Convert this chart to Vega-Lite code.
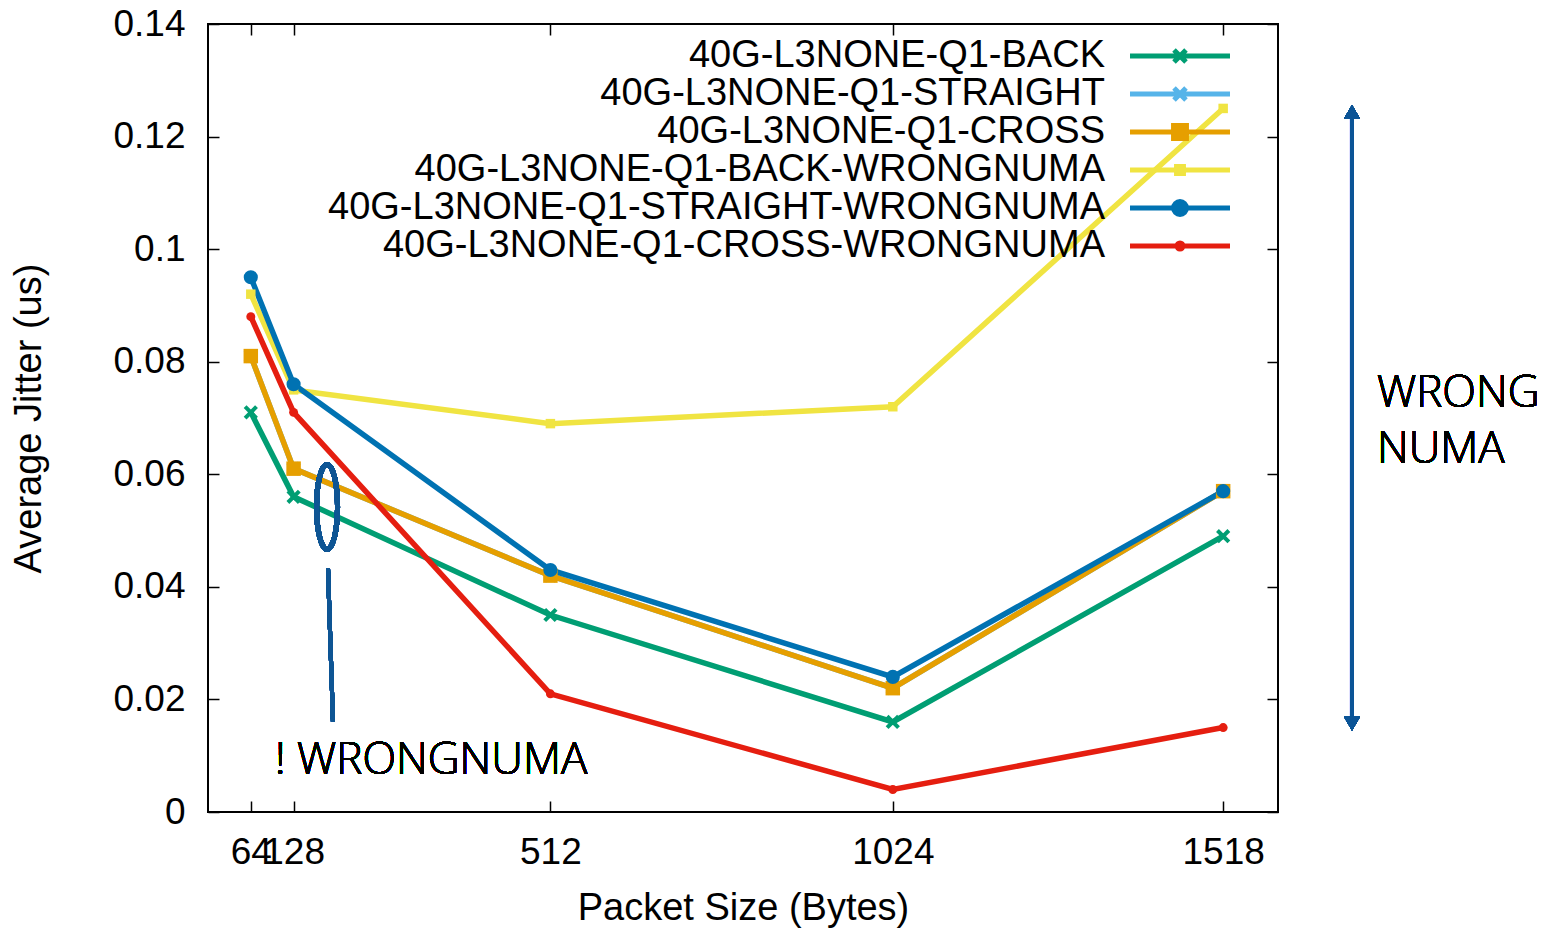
{
  "$schema": "https://vega.github.io/schema/vega-lite/v6.json",
  "width": 1070,
  "height": 788,
  "autosize": {"type": "none"},
  "padding": {"left": 208, "top": 24, "right": 274, "bottom": 116},
  "background": "white",
  "config": {
    "view": {"stroke": "black", "strokeWidth": 2},
    "axis": {
      "grid": false,
      "domain": false,
      "tickColor": "black",
      "tickWidth": 1.5,
      "tickSize": -11,
      "labelFont": "Liberation Sans",
      "labelFontSize": 37,
      "labelColor": "black",
      "titleFont": "Liberation Sans",
      "titleFontSize": 38,
      "titleFontWeight": "normal",
      "titleColor": "black"
    },
    "point": {"filled": true, "opacity": 1, "strokeWidth": 4}
  },
  "data": {
    "values": [
      {"series": "40G-L3NONE-Q1-BACK", "bytes": 64, "jitter": 0.071},
      {"series": "40G-L3NONE-Q1-BACK", "bytes": 128, "jitter": 0.056},
      {"series": "40G-L3NONE-Q1-BACK", "bytes": 512, "jitter": 0.035},
      {"series": "40G-L3NONE-Q1-BACK", "bytes": 1024, "jitter": 0.016},
      {"series": "40G-L3NONE-Q1-BACK", "bytes": 1518, "jitter": 0.049},
      {"series": "40G-L3NONE-Q1-STRAIGHT", "bytes": 64, "jitter": 0.081},
      {"series": "40G-L3NONE-Q1-STRAIGHT", "bytes": 128, "jitter": 0.061},
      {"series": "40G-L3NONE-Q1-STRAIGHT", "bytes": 512, "jitter": 0.042},
      {"series": "40G-L3NONE-Q1-STRAIGHT", "bytes": 1024, "jitter": 0.022},
      {"series": "40G-L3NONE-Q1-STRAIGHT", "bytes": 1518, "jitter": 0.057},
      {"series": "40G-L3NONE-Q1-CROSS", "bytes": 64, "jitter": 0.081},
      {"series": "40G-L3NONE-Q1-CROSS", "bytes": 128, "jitter": 0.061},
      {"series": "40G-L3NONE-Q1-CROSS", "bytes": 512, "jitter": 0.042},
      {"series": "40G-L3NONE-Q1-CROSS", "bytes": 1024, "jitter": 0.022},
      {"series": "40G-L3NONE-Q1-CROSS", "bytes": 1518, "jitter": 0.057},
      {"series": "40G-L3NONE-Q1-BACK-WRONGNUMA", "bytes": 64, "jitter": 0.092},
      {"series": "40G-L3NONE-Q1-BACK-WRONGNUMA", "bytes": 128, "jitter": 0.075},
      {"series": "40G-L3NONE-Q1-BACK-WRONGNUMA", "bytes": 512, "jitter": 0.069},
      {"series": "40G-L3NONE-Q1-BACK-WRONGNUMA", "bytes": 1024, "jitter": 0.072},
      {"series": "40G-L3NONE-Q1-BACK-WRONGNUMA", "bytes": 1518, "jitter": 0.125},
      {"series": "40G-L3NONE-Q1-STRAIGHT-WRONGNUMA", "bytes": 64, "jitter": 0.095},
      {"series": "40G-L3NONE-Q1-STRAIGHT-WRONGNUMA", "bytes": 128, "jitter": 0.076},
      {"series": "40G-L3NONE-Q1-STRAIGHT-WRONGNUMA", "bytes": 512, "jitter": 0.043},
      {"series": "40G-L3NONE-Q1-STRAIGHT-WRONGNUMA", "bytes": 1024, "jitter": 0.024},
      {"series": "40G-L3NONE-Q1-STRAIGHT-WRONGNUMA", "bytes": 1518, "jitter": 0.057},
      {"series": "40G-L3NONE-Q1-CROSS-WRONGNUMA", "bytes": 64, "jitter": 0.088},
      {"series": "40G-L3NONE-Q1-CROSS-WRONGNUMA", "bytes": 128, "jitter": 0.071},
      {"series": "40G-L3NONE-Q1-CROSS-WRONGNUMA", "bytes": 512, "jitter": 0.021},
      {"series": "40G-L3NONE-Q1-CROSS-WRONGNUMA", "bytes": 1024, "jitter": 0.004},
      {"series": "40G-L3NONE-Q1-CROSS-WRONGNUMA", "bytes": 1518, "jitter": 0.015}
    ]
  },
  "resolve": {"axis": {"x": "independent", "y": "independent"}},
  "layer": [
    {
      "mark": {"type": "line", "strokeWidth": 5.5, "strokeCap": "butt", "strokeJoin": "miter"},
      "encoding": {
        "x": {
          "field": "bytes", "type": "quantitative",
          "scale": {"domain": [0, 1600], "nice": false, "zero": false},
          "axis": {"orient": "bottom", "values": [64, 128, 512, 1024, 1518], "format": "d", "labelPadding": 33, "labelFlush": false, "labelOverlap": false, "title": "Packet Size (Bytes)", "titlePadding": 19}
        },
        "y": {
          "field": "jitter", "type": "quantitative",
          "scale": {"domain": [0, 0.14], "nice": false},
          "axis": {"orient": "left", "values": [0, 0.02, 0.04, 0.06, 0.08, 0.1, 0.12, 0.14], "format": "~g", "labelPadding": 34, "labelFlush": false, "labelOverlap": false, "title": "Average Jitter (us)", "titlePadding": 64}
        },
        "color": {
          "field": "series", "type": "nominal",
          "scale": {
            "domain": ["40G-L3NONE-Q1-BACK", "40G-L3NONE-Q1-STRAIGHT", "40G-L3NONE-Q1-CROSS", "40G-L3NONE-Q1-BACK-WRONGNUMA", "40G-L3NONE-Q1-STRAIGHT-WRONGNUMA", "40G-L3NONE-Q1-CROSS-WRONGNUMA"],
            "range": ["#009e73", "#56b4e9", "#e69f00", "#f0e442", "#0072b2", "#e51e10"]
          },
          "legend": {
            "orient": "none", "legendX": 953, "legendY": 13, "title": null, "padding": 0,
            "symbolType": "stroke", "symbolSize": 900, "symbolStrokeWidth": 5,
            "labelFont": "Liberation Sans", "labelFontSize": 38, "labelColor": "black",
            "labelAlign": "right", "labelOffset": -94, "labelLimit": 0, "rowPadding": 0,
            "encoding": {
              "symbols": {
                "shape": {"value": {"expr": "['M-3.333,0H3.333M-0.4,-0.4L0.4,0.4M0.4,-0.4L-0.4,0.4', 'M-3.333,0H3.333M-0.4,-0.4L0.4,0.4M0.4,-0.4L-0.4,0.4', 'M-3.333,0H3.333M-0.43,-0.43H0.43V0.43H-0.43Z', 'M-3.333,0H3.333M-0.23,-0.23H0.23V0.23H-0.23Z', 'M-3.333,0H3.333M-0.43,0A0.43,0.43 0 1,0 0.43,0A0.43,0.43 0 1,0 -0.43,0Z', 'M-3.333,0H3.333M-0.2,0A0.2,0.2 0 1,0 0.2,0A0.2,0.2 0 1,0 -0.2,0Z'][datum.index]"}},
                "fill": {"value": {"expr": "scale('color', datum.value)"}},
                "stroke": {"value": {"expr": "scale('color', datum.value)"}},
                "fillOpacity": {"value": 1},
                "strokeWidth": {"value": 5}
              }
            }
          }
        }
      }
    },
    {
      "transform": [{"filter": "indexof(['40G-L3NONE-Q1-BACK', '40G-L3NONE-Q1-STRAIGHT'], datum.series) >= 0"}],
      "mark": {"type": "point", "shape": "M-1,-1L1,1M1,-1L-1,1", "size": 130},
      "encoding": {
        "x": {"field": "bytes", "type": "quantitative", "axis": {"orient": "top", "values": [64, 128, 512, 1024, 1518], "labels": false, "title": null}},
        "y": {"field": "jitter", "type": "quantitative", "axis": {"orient": "right", "values": [0, 0.02, 0.04, 0.06, 0.08, 0.1, 0.12, 0.14], "labels": false, "title": null}},
        "color": {"field": "series", "type": "nominal", "legend": null},
        "stroke": {"field": "series", "type": "nominal", "scale": {
            "domain": ["40G-L3NONE-Q1-BACK", "40G-L3NONE-Q1-STRAIGHT"],
            "range": ["#009e73", "#56b4e9"]
          }, "legend": null}
      }
    },
    {
      "transform": [{"filter": "datum.series === '40G-L3NONE-Q1-CROSS'"}],
      "mark": {"type": "point", "shape": "square", "size": 210, "color": "#e69f00", "strokeWidth": 2},
      "encoding": {
        "x": {"field": "bytes", "type": "quantitative", "axis": null},
        "y": {"field": "jitter", "type": "quantitative", "axis": null}
      }
    },
    {
      "transform": [{"filter": "datum.series === '40G-L3NONE-Q1-BACK-WRONGNUMA'"}],
      "mark": {"type": "point", "shape": "square", "size": 90, "color": "#f0e442", "strokeWidth": 2},
      "encoding": {
        "x": {"field": "bytes", "type": "quantitative", "axis": null},
        "y": {"field": "jitter", "type": "quantitative", "axis": null}
      }
    },
    {
      "transform": [{"filter": "datum.series === '40G-L3NONE-Q1-STRAIGHT-WRONGNUMA'"}],
      "mark": {"type": "point", "shape": "circle", "size": 200, "color": "#0072b2", "strokeWidth": 2},
      "encoding": {
        "x": {"field": "bytes", "type": "quantitative", "axis": null},
        "y": {"field": "jitter", "type": "quantitative", "axis": null}
      }
    },
    {
      "transform": [{"filter": "datum.series === '40G-L3NONE-Q1-CROSS-WRONGNUMA'"}],
      "mark": {"type": "point", "shape": "circle", "size": 80, "color": "#e51e10", "strokeWidth": 2},
      "encoding": {
        "x": {"field": "bytes", "type": "quantitative", "axis": null},
        "y": {"field": "jitter", "type": "quantitative", "axis": null}
      }
    },
    {
      "mark": {"type": "point", "shape": "M-0.247,0A0.247,1 0 1,0 0.247,0A0.247,1 0 1,0 -0.247,0Z", "size": 7225, "filled": false, "stroke": "#0e5594", "strokeWidth": 5},
      "encoding": {"x": {"datum": 178, "type": "quantitative", "axis": null}, "y": {"datum": 0.0542, "type": "quantitative", "axis": null}}
    },
    {
      "mark": {"type": "rule", "stroke": "#0e5594", "strokeWidth": 4},
      "encoding": {
        "x": {"datum": 179.4, "type": "quantitative", "axis": null}, "x2": {"datum": 186.9},
        "y": {"datum": 0.04335, "type": "quantitative", "axis": null}, "y2": {"datum": 0.016}
      }
    },
    {
      "mark": {"type": "text", "text": "! WRONGNUMA", "font": "Open Sans", "fontSize": 44, "fontWeight": 300, "align": "left", "baseline": "alphabetic", "color": "black"},
      "encoding": {"x": {"datum": 100.2, "type": "quantitative", "axis": null}, "y": {"datum": 0.00675, "type": "quantitative", "axis": null}}
    },
    {
      "mark": {"type": "rule", "stroke": "#0b5496", "strokeWidth": 4},
      "encoding": {
        "x": {"datum": 1710.65, "type": "quantitative", "axis": null},
        "y": {"datum": 0.1240, "type": "quantitative", "axis": null}, "y2": {"datum": 0.0162}
      }
    },
    {
      "mark": {"type": "point", "shape": "triangle-up", "size": 256, "color": "#0b5496", "strokeWidth": 0},
      "encoding": {"x": {"datum": 1710.65, "type": "quantitative", "axis": null}, "y": {"datum": 0.1244, "type": "quantitative", "axis": null}}
    },
    {
      "mark": {"type": "point", "shape": "triangle-down", "size": 256, "color": "#0b5496", "strokeWidth": 0},
      "encoding": {"x": {"datum": 1710.65, "type": "quantitative", "axis": null}, "y": {"datum": 0.0157, "type": "quantitative", "axis": null}}
    },
    {
      "mark": {"type": "text", "text": "WRONG", "font": "Open Sans", "fontSize": 44, "fontWeight": 300, "align": "left", "baseline": "alphabetic", "color": "black"},
      "encoding": {"x": {"datum": 1748, "type": "quantitative", "axis": null}, "y": {"datum": 0.07195, "type": "quantitative", "axis": null}}
    },
    {
      "mark": {"type": "text", "text": "NUMA", "font": "Open Sans", "fontSize": 44, "fontWeight": 300, "align": "left", "baseline": "alphabetic", "color": "black"},
      "encoding": {"x": {"datum": 1748, "type": "quantitative", "axis": null}, "y": {"datum": 0.0620, "type": "quantitative", "axis": null}}
    }
  ]
}
